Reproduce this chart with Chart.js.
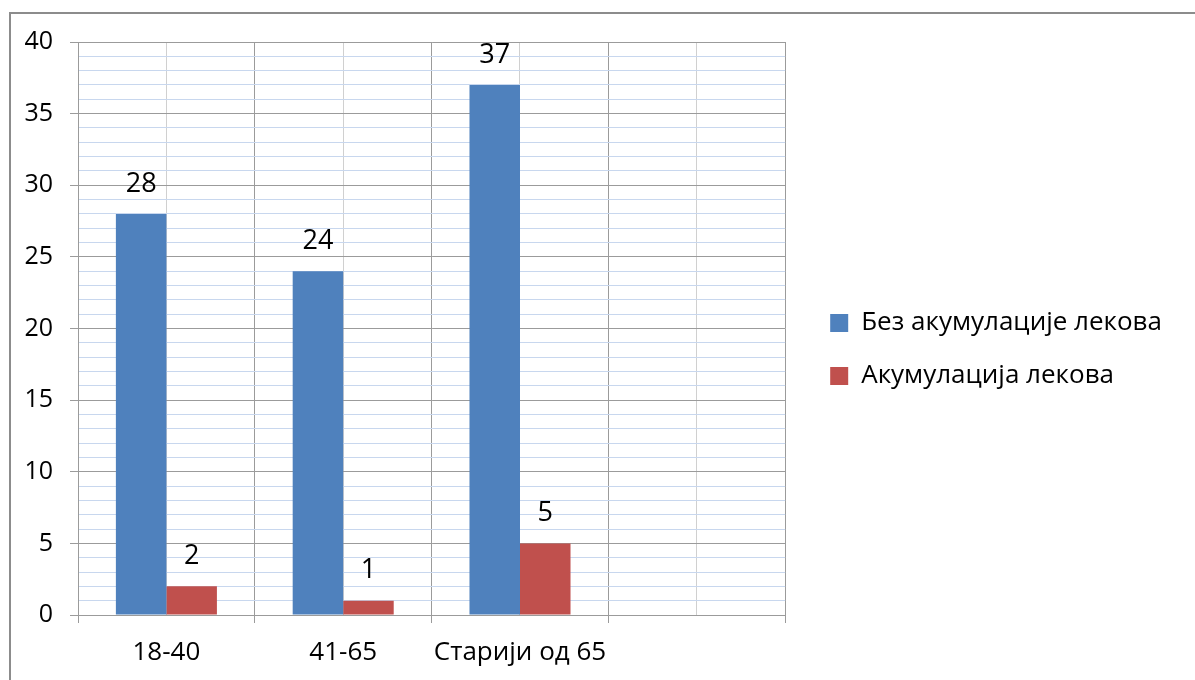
<!DOCTYPE html>
<html>
<head>
<meta charset="utf-8">
<script src="https://cdn.jsdelivr.net/npm/chart.js@4"></script>
<style>
  html, body { margin: 0; padding: 0; background: #fff; }
</style>
</head>
<body>
<canvas id="chart" width="1195" height="680"></canvas>
<script>
// категорије (четврта је празна, као у оригиналу)
const categories = ['18-40', '41-65', 'Старији од 65', ''];

// Без акумулације лекова
const withoutAccum = [28, 24, 37, null];

// Акумулација лекова
const withAccum = [2, 1, 5, null];

const seriesNames = ['Без акумулације лекова', 'Акумулација лекова'];
const yTicks = [0, 5, 10, 15, 20, 25, 30, 35, 40];

const FONT = "'Open Sans', sans-serif";
const MAJOR = '#9b9b9b';
const MINOR = '#c8d7ee';
const LEGEND_SIZE = 26;

// ширина легенде, да би легенда почела на x = 803
const measure = document.createElement('canvas').getContext('2d');
measure.font = LEGEND_SIZE + 'px ' + FONT;
const legendTextW = Math.max(...seriesNames.map((t) => measure.measureText(t).width));
const legendW = 27 + 18 + LEGEND_SIZE / 2 + legendTextW + 10;
const padRight = Math.max(0, Math.round(1195 - 803 - legendW));

// оквир и бела позадина
const frame = {
  id: 'frame',
  beforeDraw(chart) {
    const { ctx, width, height } = chart;
    ctx.save();
    ctx.fillStyle = '#fff';
    ctx.fillRect(0, 0, width, height);
    ctx.strokeStyle = '#8c8c8c';
    ctx.lineWidth = 2;
    ctx.beginPath();
    ctx.moveTo(10, height);
    ctx.lineTo(10, 13);
    ctx.lineTo(width, 13);
    ctx.stroke();
    ctx.restore();
  },
};

// вредности изнад стубића
const valueLabels = {
  id: 'valueLabels',
  afterDatasetsDraw(chart) {
    const { ctx } = chart;
    ctx.save();
    ctx.font = '27px ' + FONT;
    ctx.fillStyle = '#000';
    ctx.textAlign = 'center';
    ctx.textBaseline = 'middle';
    chart.data.datasets.forEach((ds, i) => {
      chart.getDatasetMeta(i).data.forEach((bar, j) => {
        const v = ds.data[j];
        if (v == null) return;
        ctx.fillText(String(v), bar.x, bar.y - 30);
      });
    });
    ctx.restore();
  },
};

new Chart(document.getElementById('chart'), {
  type: 'bar',
  data: {
    labels: categories,
    datasets: [
      {
        label: seriesNames[0],
        data: withoutAccum,
        backgroundColor: '#4f81bd',
        borderWidth: 0,
      },
      {
        label: seriesNames[1],
        data: withAccum,
        backgroundColor: '#c0504d',
        borderWidth: 0,
      },
    ],
  },
  plugins: [frame, valueLabels],
  options: {
    responsive: false,
    animation: false,
    devicePixelRatio: 1,
    layout: { padding: { left: 20, top: 19, right: padRight, bottom: 0 } },
    datasets: {
      bar: { categoryPercentage: 2 / 3.5, barPercentage: 1 },
    },
    scales: {
      x: {
        offset: true,
        grid: { offset: true, color: MAJOR, tickColor: MAJOR, tickLength: 8 },
        border: { color: MAJOR },
        ticks: {
          color: '#000',
          font: { family: FONT, size: 26 },
          padding: 14,
          maxRotation: 0,
          autoSkip: false,
        },
        afterFit: (s) => { s.height = 65; },
      },
      // средње вертикалне линије (и размак изнад графика)
      xMid: {
        type: 'category',
        position: 'top',
        offset: true,
        grid: { offset: false, color: '#d0d0d0', drawTicks: false },
        border: { display: false },
        ticks: { display: false },
        afterFit: (s) => { s.height = 23; },
      },
      y: {
        min: 0,
        max: 40,
        ticks: {
          stepSize: 1,
          autoSkip: false,
          color: '#000',
          font: { family: FONT, size: 25 },
          padding: 17,
          callback: (v) => (yTicks.includes(v) ? String(v) : ''),
        },
        grid: {
          color: (c) => (c.tick && c.tick.value % 5 === 0 ? MAJOR : MINOR),
          tickColor: (c) => (c.tick && c.tick.value % 5 === 0 ? MAJOR : 'rgba(0,0,0,0)'),
          tickLength: 8,
        },
        border: { color: MAJOR },
        afterFit: (s) => { s.width = 58; },
      },
      // празан простор између графика и легенде
      ySpace: {
        position: 'right',
        min: 0,
        max: 40,
        grid: { drawOnChartArea: false, drawTicks: false },
        border: { display: false },
        ticks: { display: false },
        afterFit: (s) => { s.width = 18; },
      },
    },
    plugins: {
      legend: {
        position: 'right',
        maxWidth: 420,
        labels: {
          boxWidth: 18,
          boxHeight: 18,
          padding: 27,
          color: '#000',
          font: { family: FONT, size: LEGEND_SIZE },
        },
      },
      tooltip: { enabled: false },
    },
  },
});
</script>
</body>
</html>
